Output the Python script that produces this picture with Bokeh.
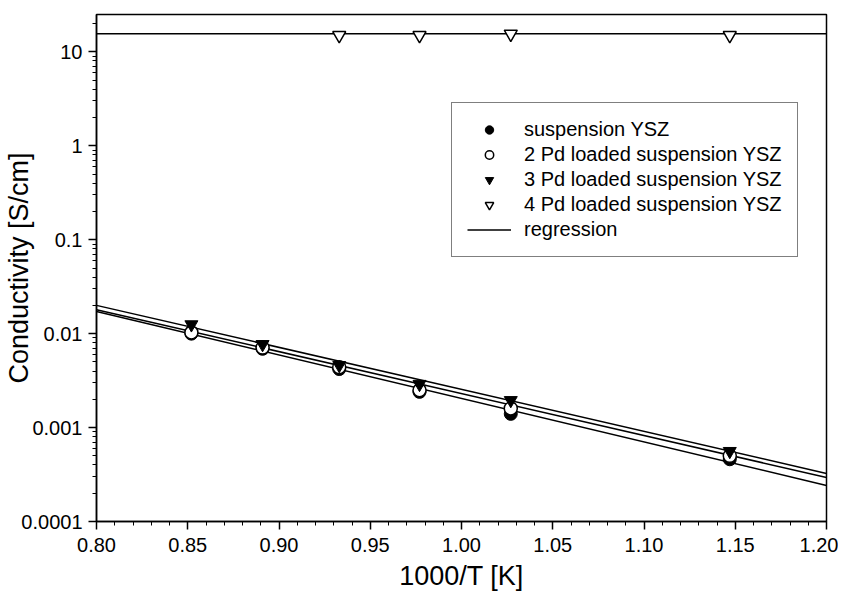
from bokeh.plotting import figure
from bokeh.models import FixedTicker, CustomJSTickFormatter, PrintfTickFormatter, Legend, LegendItem
from bokeh.embed import file_html
from bokeh.resources import INLINE

# ---- data ----
x_main = [0.852, 0.891, 0.933, 0.977, 1.027, 1.147]
susp_ysz = [0.0100, 0.0069, 0.0042, 0.0024, 0.00140, 0.00046]
pd2_ysz = [0.0103, 0.0071, 0.0044, 0.0025, 0.00160, 0.00050]
pd3_ysz = [0.0125, 0.0077, 0.0046, 0.0029, 0.00195, 0.00056]
x_pd4 = [0.933, 0.977, 1.027, 1.147]
pd4_ysz = [15.0, 15.0, 15.5, 15.0]

reg_x = [0.80, 1.20]
reg_susp = [0.0172, 0.000242]
reg_pd2 = [0.0180, 0.000294]
reg_pd3 = [0.0200, 0.000325]
reg_pd4 = [15.6, 15.6]

x_ticks = [0.80, 0.85, 0.90, 0.95, 1.00, 1.05, 1.10, 1.15, 1.20]
x_minor = [round(0.80 + 0.01 * i, 2) for i in range(41)]
y_ticks = [0.0001, 0.001, 0.01, 0.1, 1, 10]
y_minor = [m * t for t in y_ticks for m in range(2, 10)]

labels = ["suspension YSZ", "2 Pd loaded suspension YSZ",
          "3 Pd loaded suspension YSZ", "4 Pd loaded suspension YSZ", "regression"]

FONT = "Liberation Sans"

p = figure(width=838, height=600, y_axis_type="log",
           x_range=(0.80, 1.20), y_range=(0.0001, 25),
           output_backend="svg", toolbar_location=None,
           min_border_left=96, min_border_right=12, min_border_top=14, min_border_bottom=79)
p.grid.visible = False
p.outline_line_color = "black"
p.outline_line_width = 1.5
p.outline_line_alpha = 1.0
p.background_fill_color = "white"
p.border_fill_color = "white"

# regression lines
kw = dict(line_color="black", line_width=1.5)
r_reg = p.line(reg_x, reg_susp, **kw)
p.line(reg_x, reg_pd2, **kw)
p.line(reg_x, reg_pd3, **kw)
p.line(reg_x, reg_pd4, **kw)

# markers
r1 = p.scatter(x_main, susp_ysz, marker="circle", size=13, fill_color="black", line_color="black")
r2 = p.scatter(x_main, pd2_ysz, marker="circle", size=13, fill_color="white", line_color="black", line_width=1.5)
r3 = p.scatter(x_main, pd3_ysz, marker="inverted_triangle", size=13, fill_color="black", line_color="black")
r4 = p.scatter(x_pd4, pd4_ysz, marker="inverted_triangle", size=13, fill_color="white", line_color="black", line_width=1.5)

# axes
p.xaxis.ticker = FixedTicker(ticks=x_ticks, minor_ticks=x_minor)
p.xaxis.formatter = PrintfTickFormatter(format="%.2f")
p.yaxis.ticker = FixedTicker(ticks=y_ticks, minor_ticks=y_minor)
p.yaxis.formatter = CustomJSTickFormatter(code="return String(parseFloat(tick.toPrecision(4)));")

for ax in (p.xaxis[0], p.yaxis[0]):
    ax.axis_line_color = "black"
    ax.axis_line_width = 1.5
    ax.major_tick_line_width = 1.5
    ax.minor_tick_line_width = 1
    ax.major_tick_in = 0
    ax.minor_tick_in = 0
    ax.major_tick_out = 8
    ax.minor_tick_out = 4
    ax.major_label_text_font = FONT
    ax.major_label_text_font_size = "20px"
    ax.major_label_text_color = "black"
    ax.axis_label_text_font = FONT
    ax.axis_label_text_font_size = "27px"
    ax.axis_label_text_font_style = "normal"
    ax.axis_label_text_color = "black"

p.xaxis.axis_label = "1000/T [K]"
p.xaxis.major_label_standoff = 8
p.xaxis.axis_label_standoff = 6
p.yaxis.axis_label = "Conductivity [S/cm]"
p.yaxis.major_label_standoff = 6
p.yaxis.axis_label_standoff = -16

legend = Legend(items=[
    LegendItem(label=labels[0], renderers=[r1]),
    LegendItem(label=labels[1], renderers=[r2]),
    LegendItem(label=labels[2], renderers=[r3]),
    LegendItem(label=labels[3], renderers=[r4]),
    LegendItem(label=labels[4], renderers=[r_reg]),
], location=(355, 264))
legend.border_line_color = "black"
legend.border_line_width = 1.5
legend.background_fill_color = "white"
legend.background_fill_alpha = 1.0
legend.label_text_font = FONT
legend.label_text_font_size = "20px"
legend.label_text_color = "black"
legend.glyph_width = 44
legend.glyph_height = 21
legend.label_height = 21
legend.spacing = 2
legend.padding = 15
legend.label_standoff = 13
legend.margin = 0
p.add_layout(legend)

open("out.html", "w").write(file_html(p, INLINE))
